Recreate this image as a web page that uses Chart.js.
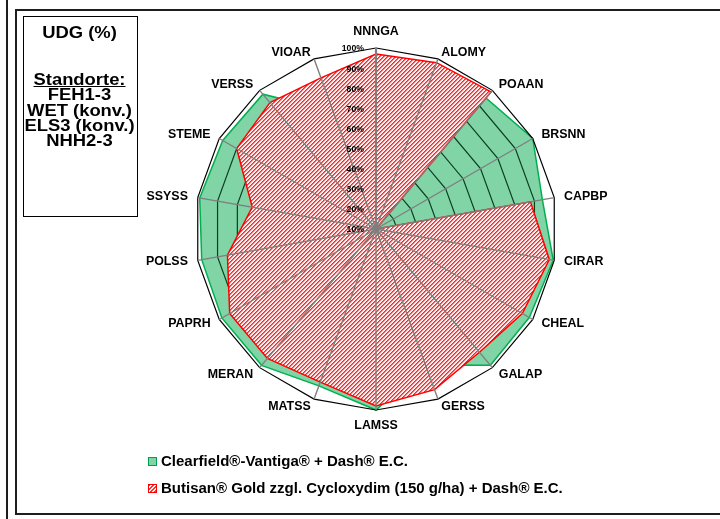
<!DOCTYPE html>
<html><head><meta charset="utf-8">
<script src="https://cdn.jsdelivr.net/npm/chart.js@4.4.1/dist/chart.umd.min.js"></script>
<style>
html,body{margin:0;padding:0;background:#fff;}
#wrap{position:relative;width:720px;height:519px;overflow:hidden;font-family:"Liberation Sans",Arial,sans-serif;font-weight:bold;color:#000;}
canvas{position:absolute;left:0;top:0;}
.ln{position:absolute;background:#1e1e1e;}
#box{position:absolute;left:23px;top:16px;width:115px;height:201px;box-sizing:border-box;border:1.5px solid #000;}
.bt{position:absolute;left:0;width:111px;text-align:center;font-size:16px;line-height:16px;white-space:nowrap;transform:scaleX(1.15);transform-origin:50% 50%;}
.lg{position:absolute;left:161px;font-size:15px;line-height:16px;white-space:nowrap;}
.sw{position:absolute;left:148px;width:9px;height:9px;box-sizing:border-box;}
</style></head>
<body><div id="wrap">
<canvas id="c" width="720" height="519"></canvas>
<div class="ln" style="left:6px;top:0;width:2px;height:519px"></div>
<div class="ln" style="left:15px;top:9px;width:2px;height:506px"></div>
<div class="ln" style="left:15px;top:9px;width:705px;height:2px"></div>
<div class="ln" style="left:15px;top:513px;width:705px;height:2px"></div>
<div id="box">
  <div class="bt" style="top:8.2px">UDG (%)</div>
  <div class="bt" style="top:55.2px"><span style="text-decoration:underline">Standorte:</span></div>
  <div class="bt" style="top:70.2px">FEH1-3</div>
  <div class="bt" style="top:85.7px">WET (konv.)</div>
  <div class="bt" style="top:100.7px">ELS3 (konv.)</div>
  <div class="bt" style="top:116.2px">NHH2-3</div>
</div>
<div class="sw" id="sw1" style="top:457px;background:#80d4a6;border:1px solid #00a04a"></div>
<div class="lg" id="lg1" style="top:453px"></div>
<div class="sw" id="sw2" style="top:484px;border:1px solid #ff0000;background:repeating-linear-gradient(135deg,#ff3030 0 1.4px,#fff 1.4px 2.8px)"></div>
<div class="lg" id="lg2" style="top:480px"></div>
</div>
<script>
const categories = ['NNNGA','ALOMY','POAAN','BRSNN','CAPBP','CIRAR','CHEAL','GALAP','GERSS','LAMSS','MATSS','MERAN','PAPRH','POLSS','SSYSS','STEME','VERSS','VIOAR'];
const clearfieldValues = [80, 85, 95, 100, 94, 99.5, 98, 98.5, 82, 100, 93, 98.5, 98.5, 98, 99, 98, 97.5, 72];
const butisanValues = [97, 98, 99, 10, 88, 97.5, 94, 90, 95, 98, 91, 94, 94, 85, 72.5, 90, 92, 90];
const tickValues = [10, 20, 30, 40, 50, 60, 70, 80, 90, 100];
const tickLabels = ['10%', '20%', '30%', '40%', '50%', '60%', '70%', '80%', '90%', '100%'];
const seriesNames = ['Clearfield®-Vantiga® + Dash® E.C.', 'Butisan® Gold zzgl. Cycloxydim (150 g/ha) + Dash® E.C.'];

document.getElementById('lg1').textContent = seriesNames[0];
document.getElementById('lg2').textContent = seriesNames[1];

const canvas = document.getElementById('c');
const ctx0 = canvas.getContext('2d');
const tile = document.createElement('canvas');
tile.width = 4; tile.height = 4;
const tctx = tile.getContext('2d');
const img = tctx.createImageData(4, 4);
for (let y = 0; y < 4; y++) for (let x = 0; x < 4; x++) {
  const k = (y * 4 + x) * 4, m = (x + y) % 4;
  let c = [255, 255, 255];
  if (m === 3) c = [255, 35, 35];
  else if (m === 0) c = [255, 110, 110];
  else if (m === 1) c = [255, 235, 235];
  img.data[k] = c[0]; img.data[k + 1] = c[1]; img.data[k + 2] = c[2]; img.data[k + 3] = 255;
}
tctx.putImageData(img, 0, 0);
const hatch = ctx0.createPattern(tile, 'repeat');

const FONT = '"Liberation Sans", Arial, sans-serif';

const greenRings = {
  id: 'greenRings',
  afterDatasetDraw(chart, args) {
    if (args.index !== 0) return;
    const s = chart.scales.r, ctx = chart.ctx, pts = args.meta.data;
    ctx.save();
    ctx.beginPath();
    pts.forEach((p, i) => i ? ctx.lineTo(p.x, p.y) : ctx.moveTo(p.x, p.y));
    ctx.closePath();
    ctx.clip();
    ctx.strokeStyle = '#0b3f22';
    ctx.lineWidth = 1.2;
    tickValues.slice(1, -1).forEach(v => {
      ctx.beginPath();
      categories.forEach((c, i) => {
        const p = s.getPointPositionForValue(i, v);
        i ? ctx.lineTo(p.x, p.y) : ctx.moveTo(p.x, p.y);
      });
      ctx.closePath();
      ctx.stroke();
    });
    ctx.restore();
  }
};

const labelsPlugin = {
  id: 'labelsPlugin',
  afterDraw(chart) {
    const s = chart.scales.r, ctx = chart.ctx;
    ctx.save();
    ctx.fillStyle = '#000';
    ctx.textBaseline = 'middle';
    ctx.font = 'bold 12.4px ' + FONT;
    const n = categories.length;
    categories.forEach((lab, i) => {
      const v = s.getPointPosition(i, s.drawingArea);
      const a = i * 2 * Math.PI / n;
      const sn = Math.sin(a), cs = Math.cos(a);
      let x, y, align;
      if (Math.abs(sn) < 1e-6) { align = 'center'; x = v.x; y = v.y - 16 * cs; }
      else { align = sn > 0 ? 'left' : 'right'; x = v.x + 10 * sn; y = v.y - (cs > 0 ? 7 : 8.5) * cs; }
      ctx.textAlign = align;
      ctx.fillText(lab, x, y);
    });
    ctx.font = 'bold 8.7px ' + FONT;
    ctx.textAlign = 'right';
    tickValues.forEach((t, k) => {
      const d = s.getDistanceFromCenterForValue(t);
      ctx.fillText(tickLabels[k], s.xCenter - 12, s.yCenter - d + 1);
    });
    ctx.restore();
  }
};

new Chart(canvas, {
  type: 'radar',
  data: {
    labels: categories,
    datasets: [
      { label: seriesNames[0], data: clearfieldValues, order: 1, fill: true,
        backgroundColor: '#80d4a6', borderColor: '#00b050', borderWidth: 1.5 },
      { label: seriesNames[1], data: butisanValues, order: 0, fill: true,
        backgroundColor: hatch, borderColor: '#ff0000', borderWidth: 1.5 }
    ]
  },
  options: {
    responsive: false,
    animation: false,
    devicePixelRatio: 1,
    layout: { padding: { left: 194.5, right: 162.5, top: 48, bottom: 108 } },
    elements: { point: { radius: 0, hoverRadius: 0 }, line: { tension: 0 } },
    plugins: { legend: { display: false }, tooltip: { enabled: false } },
    scales: {
      r: {
        min: 10, max: 100,
        ticks: { display: false, stepSize: 10 },
        pointLabels: { display: false },
        grid: { z: 1, lineWidth: 1.2,
          color: c => c.index === tickValues.length - 1 ? '#000' : 'rgba(0,0,0,0)' },
        angleLines: { color: '#7f7f7f', lineWidth: c => c.index === 0 ? 2.2 : 1.4 }
      }
    }
  },
  plugins: [greenRings, labelsPlugin]
});
</script>
</body></html>
